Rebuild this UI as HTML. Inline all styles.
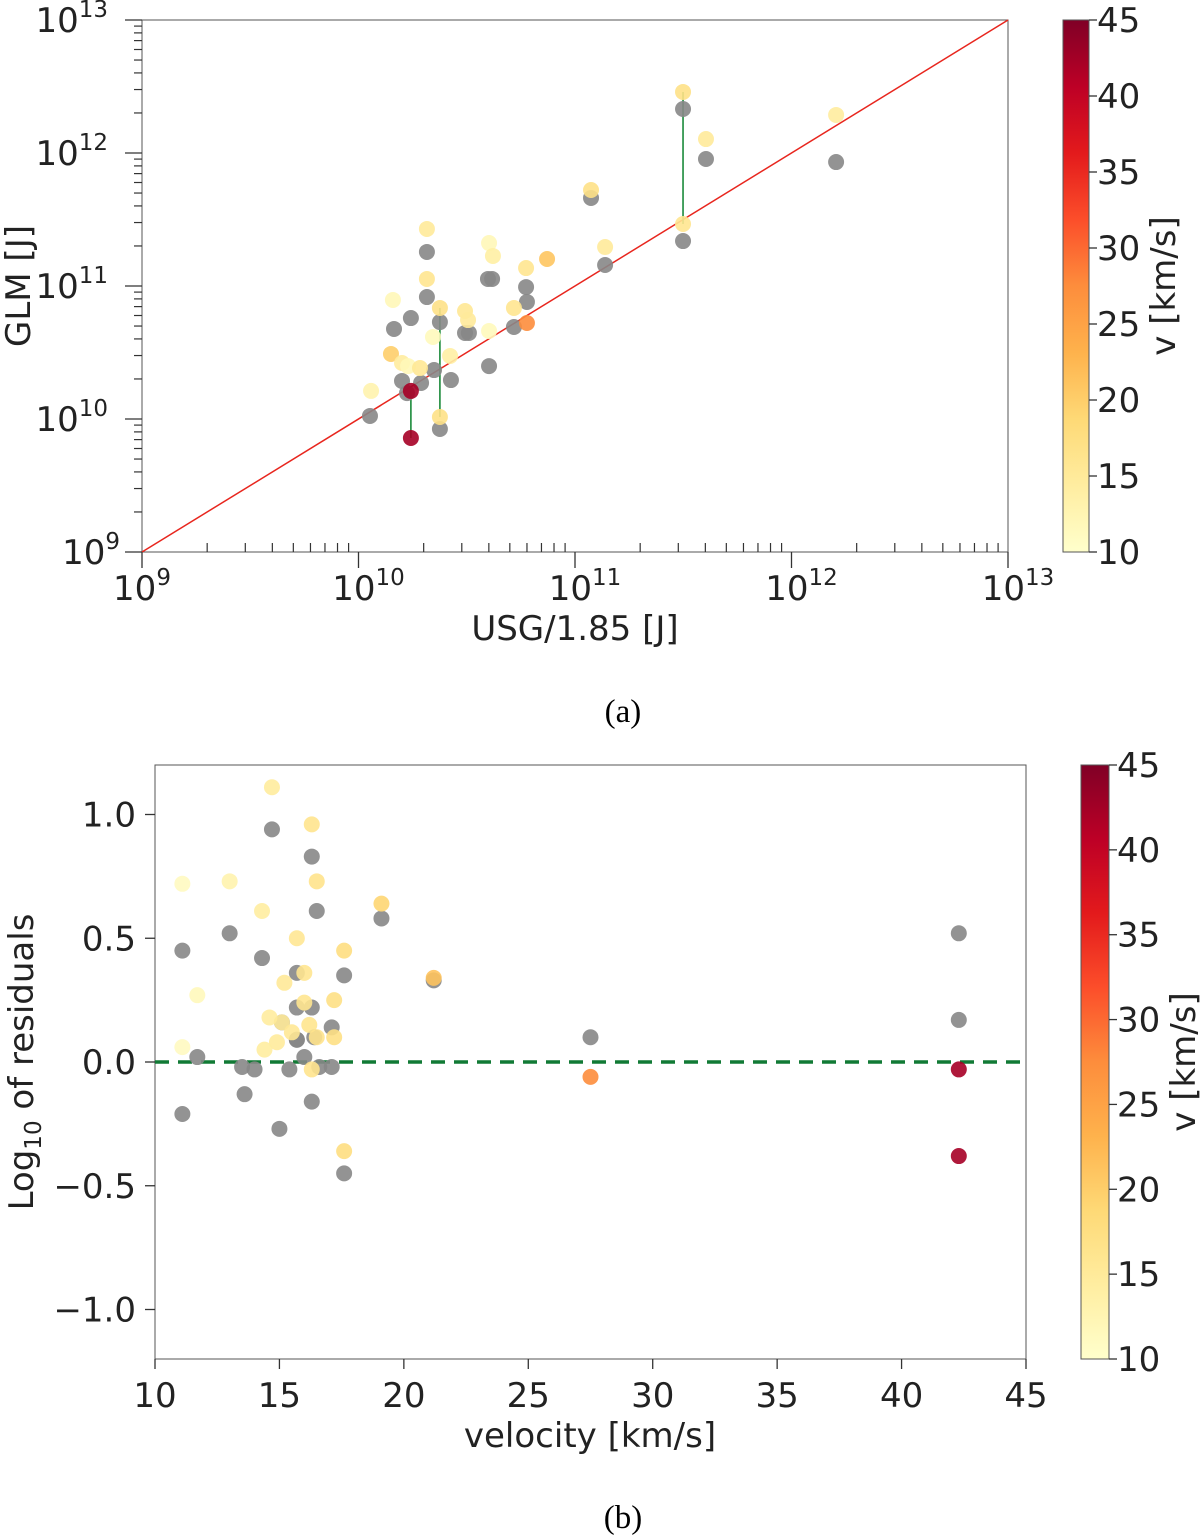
<!DOCTYPE html>
<html><head><meta charset="utf-8">
<style>
html,body{margin:0;padding:0;background:#fff;}
svg{display:block;font-family:"DejaVu Sans","Liberation Sans",sans-serif;}
</style></head>
<body>
<svg id="fig" width="1200" height="1537" viewBox="0 0 1200 1537" xmlns="http://www.w3.org/2000/svg">
<defs>
<linearGradient id="cmapA" x1="0" y1="1" x2="0" y2="0">
<stop offset="0" stop-color="#ffffcc"/><stop offset="0.125" stop-color="#ffeda0"/><stop offset="0.25" stop-color="#fed976"/><stop offset="0.375" stop-color="#feb24c"/><stop offset="0.5" stop-color="#fd8d3c"/><stop offset="0.625" stop-color="#fc4e2a"/><stop offset="0.75" stop-color="#e31a1c"/><stop offset="0.875" stop-color="#bd0026"/><stop offset="1" stop-color="#800026"/>
</linearGradient>
</defs>
<g id="pa"></g>
<g id="pb"></g>
<text x="623" y="722" font-family="Liberation Serif, serif" font-size="33" text-anchor="middle">(a)</text>
<text x="623" y="1528" font-family="Liberation Serif, serif" font-size="33" text-anchor="middle">(b)</text>
</svg>
<script>
// ---- Panel (a) data: log10 energies ----
const aGrayX = [10.053,10.164,10.242,10.316,10.316,10.376,10.201,10.289,10.349,10.427,10.376,10.603,10.492,10.510,10.617,10.598,10.774,10.778,10.718,10.224,11.074,11.139,11.499,11.499,11.605,12.206];
const aGrayY = [10.023,10.677,10.759,11.256,10.917,10.729,10.286,10.271,10.368,10.293,9.925,10.398,10.647,10.647,11.053,11.053,10.992,10.880,10.692,10.195,11.662,11.158,12.331,11.338,11.955,11.932];
const aColX = [10.316,10.316,10.159,10.376,10.492,10.506,10.603,10.621,10.774,10.871,10.718,10.778,10.603,10.344,10.423,10.150,10.201,10.229,10.284,10.058,10.242,10.376,10.242,11.074,11.139,11.499,11.499,11.605,12.206];
const aColY = [11.429,11.053,10.895,10.835,10.812,10.744,11.323,11.226,11.135,11.203,10.835,10.722,10.662,10.617,10.474,10.489,10.421,10.398,10.383,10.211,10.211,10.015,9.857,11.722,11.293,12.459,11.466,12.105,12.286];
const aColV = [15,16,12,17,15.5,15,12,14,16,21,16,27.5,11.5,11.5,14,20,14.5,12,15.5,13,42.3,17,42.3,17,15,17,16,15,14.5];
const aLinks = [[20,22],[3,21],[25,26]]; // colored index pairs joined by green segments
// ---- Panel (b) data: velocity vs log10 residual ----
const bGrayV = [14.7,16.3,16.5,19.1,13.0,11.1,14.3,15.7,17.6,15.7,16.3,15.1,15.7,16.4,11.7,16.0,15.7,17.1,13.5,14.0,15.4,17.1,16.6,16.3,13.6,11.1,15.0,17.6,21.2,27.5,42.3,42.3];
const bGrayR = [0.94,0.83,0.61,0.58,0.52,0.45,0.42,0.36,0.35,0.22,0.22,0.16,0.09,0.10,0.02,0.02,0.09,0.14,-0.02,-0.03,-0.03,-0.02,-0.02,-0.16,-0.13,-0.21,-0.27,-0.45,0.33,0.10,0.52,0.17];
const bColV = [14.7,16.3,11.1,13.0,16.5,14.3,19.1,15.7,17.6,16.0,11.7,15.2,16.0,17.2,14.6,15.1,16.2,16.5,15.5,14.9,14.4,17.2,11.1,16.3,17.6,21.2,27.5,42.3,42.3];
const bColR = [1.11,0.96,0.72,0.73,0.73,0.61,0.64,0.50,0.45,0.36,0.27,0.32,0.24,0.25,0.18,0.16,0.15,0.10,0.12,0.08,0.05,0.10,0.06,-0.03,-0.36,0.34,-0.06,-0.03,-0.38];
const aTicks = [9,10,11,12,13];
const bXTicks = [10,15,20,25,30,35,40,45];
const bYTicks = [-1.0,-0.5,0.0,0.5,1.0];
const cbTicks = [10,15,20,25,30,35,40,45];

const NS='http://www.w3.org/2000/svg';
function mk(parent,tag,attrs,text){const e=document.createElementNS(NS,tag);for(const k in attrs)e.setAttribute(k,attrs[k]);if(text!==undefined)e.textContent=text;parent.appendChild(e);return e;}
const stops=[[0,[255,255,204]],[0.125,[255,237,160]],[0.25,[254,217,118]],[0.375,[254,178,76]],[0.5,[253,141,60]],[0.625,[252,78,42]],[0.75,[227,26,28]],[0.875,[189,0,38]],[1,[128,0,38]]];
function cmap(v){let t=Math.max(0,Math.min(1,(v-10)/35));for(let i=1;i<stops.length;i++){if(t<=stops[i][0]){const a=stops[i-1],b=stops[i];const f=(t-a[0])/(b[0]-a[0]);const c=a[1].map((x,j)=>Math.round(x+(b[1][j]-x)*f));return 'rgb('+c.join(',')+')';}}return 'rgb(128,0,38)';}

// ---------- Panel A ----------
const pa=document.getElementById('pa');
const AX0=142,AX1=1008,AY0=20,AY1=552;
const ax=v=>AX0+(v-9)/4*(AX1-AX0);
const ay=v=>AY1-(v-9)/4*(AY1-AY0);
let r=mk(pa,'rect',{x:AX0,y:AY0,width:AX1-AX0,height:AY1-AY0,fill:'none',stroke:'#555','stroke-width':1});


let l=mk(pa,'line',{x1:ax(9),y1:ay(9),x2:ax(13),y2:ay(13),stroke:'#e8261e','stroke-width':1.5});


for(let d=9;d<13;d++){for(let m=2;m<10;m++){const lv=d+Math.log10(m);
 let t=mk(pa,'line',{x1:ax(lv),y1:AY1,x2:ax(lv),y2:AY1-9,stroke:'#333','stroke-width':1.2});
 
 
 t=mk(pa,'line',{x1:AX0,y1:ay(lv),x2:AX0-8,y2:ay(lv),stroke:'#333','stroke-width':1.2});
 
 }}
aTicks.forEach(v=>{
 let t=mk(pa,'line',{x1:ax(v),y1:AY1,x2:ax(v),y2:AY1+16,stroke:'#333','stroke-width':1.3});
 
 
 t=mk(pa,'line',{x1:AX0,y1:ay(v),x2:AX0-17,y2:ay(v),stroke:'#333','stroke-width':1.3});
 
 
 let tx=mk(pa,'text',{x:ax(v)+ (v>=10?10:0),y:600,'font-size':34,'text-anchor':'middle',fill:'#222'});
 tx.innerHTML='10<tspan dy="-15" font-size="23">'+v+'</tspan>';
 
 
 let ty=mk(pa,'text',{x:120-(v>=10?12:0),y:ay(v)+12,'font-size':34,'text-anchor':'end',fill:'#222'});
 ty.innerHTML='10<tspan dy="-15" font-size="23">'+v+'</tspan>';
 
 
});
let xl=mk(pa,'text',{x:575,y:640,'font-size':34,'text-anchor':'middle',fill:'#222'},'USG/1.85 [J]');


let yl=mk(pa,'text',{x:0,y:0,'font-size':34,'text-anchor':'middle',fill:'#222',transform:'translate(30,286) rotate(-90)'},'GLM [J]');


aLinks.forEach(p=>{
 let g=mk(pa,'line',{x1:ax(aColX[p[0]]),y1:ay(aColY[p[0]]),x2:ax(aColX[p[1]]),y2:ay(aColY[p[1]]),stroke:'#1a8a3a','stroke-width':1.6});
 
 
});
aGrayX.forEach((x,i)=>{
 let c=mk(pa,'circle',{cx:ax(x),cy:ay(aGrayY[i]),r:8,fill:'#878787','fill-opacity':0.9});
 
 
});
aColX.forEach((x,i)=>{
 let c=mk(pa,'circle',{cx:ax(x),cy:ay(aColY[i]),r:8,fill:cmap(aColV[i]),'fill-opacity':0.9});
 
 
});

// ---------- Panel B ----------
const pb=document.getElementById('pb');
const BX0=155,BX1=1026,BY0=765,BY1=1359;
const bx=v=>BX0+(v-10)/35*(BX1-BX0);
const by=v=>BY1-(v+1.2)/2.4*(BY1-BY0);
r=mk(pb,'rect',{x:BX0,y:BY0,width:BX1-BX0,height:BY1-BY0,fill:'none',stroke:'#555','stroke-width':1});


bXTicks.forEach(v=>{
 let t=mk(pb,'line',{x1:bx(v),y1:BY1,x2:bx(v),y2:BY1+10,stroke:'#333','stroke-width':1.3});
 
 
 let tx=mk(pb,'text',{x:bx(v),y:1407,'font-size':34,'text-anchor':'middle',fill:'#222'},String(v));
 
 
});
bYTicks.forEach(v=>{
 let t=mk(pb,'line',{x1:BX0,y1:by(v),x2:BX0-10,y2:by(v),stroke:'#333','stroke-width':1.3});
 
 
 let tx=mk(pb,'text',{x:136,y:by(v)+12,'font-size':34,'text-anchor':'end',fill:'#222'},(v<0?'\u2212':'')+Math.abs(v).toFixed(1));
 
 
});
xl=mk(pb,'text',{x:590,y:1447,'font-size':34,'text-anchor':'middle',fill:'#222'},'velocity [km/s]');


yl=mk(pb,'text',{x:0,y:0,'font-size':34,'text-anchor':'middle',fill:'#222',transform:'translate(33,1062) rotate(-90)'});
yl.innerHTML='Log<tspan dy="8" font-size="23">10</tspan><tspan dy="-8"> of residuals</tspan>';


l=mk(pb,'line',{x1:BX0,y1:by(0),x2:BX1,y2:by(0),stroke:'#117a35','stroke-width':3.5,'stroke-dasharray':'14,9'});


bGrayV.forEach((v,i)=>{
 let c=mk(pb,'circle',{cx:bx(v),cy:by(bGrayR[i]),r:8,fill:'#878787','fill-opacity':0.9});
 
 
});
bColV.forEach((v,i)=>{
 let c=mk(pb,'circle',{cx:bx(v),cy:by(bColR[i]),r:8,fill:cmap(v),'fill-opacity':0.9});
 
 
});

// ---------- Colorbars ----------
function colorbar(parent,x,y0,y1,w,name){
 let g=mk(parent,'rect',{x:x,y:y0,width:w,height:y1-y0,fill:'url(#cmapA)',stroke:'#555','stroke-width':1});
 
 
 cbTicks.forEach(v=>{const yy=y1-(v-10)/35*(y1-y0);
  let t=mk(parent,'line',{x1:x+w,y1:yy,x2:x+w+8,y2:yy,stroke:'#333','stroke-width':1.3});
  
  
  let tx=mk(parent,'text',{x:x+w+8,y:yy+12,'font-size':34,fill:'#222'},String(v));
  
  
 });
 let lb=mk(parent,'text',{x:0,y:0,'font-size':34,'text-anchor':'middle',fill:'#222',transform:'translate('+(x+w+86)+','+((y0+y1)/2)+') rotate(-90)'},'v [km/s]');
 
 
}
colorbar(pa,1063,20,552,26,'colorbar-a');
colorbar(pb,1081,765,1359,28,'colorbar-b');
</script>
</body></html>
